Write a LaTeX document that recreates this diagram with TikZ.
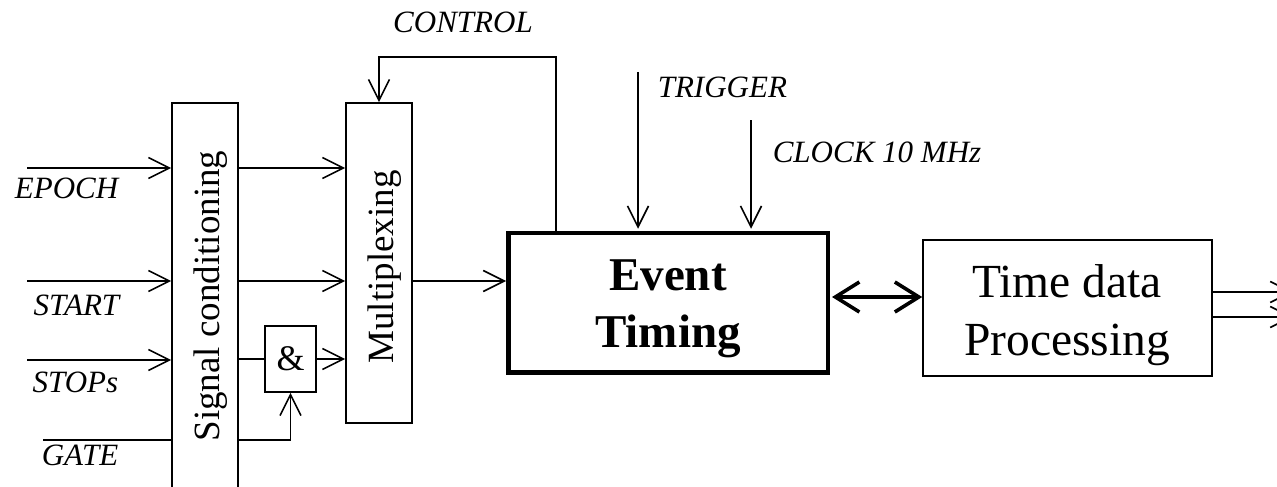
\documentclass[tikz,border=0pt]{standalone}
\usepackage{fontspec}
\setmainfont{Liberation Serif}
\usetikzlibrary{arrows.meta,positioning}

\begin{document}
\begin{tikzpicture}[
    x=1pt, y=-1pt,
    line width=1.6pt,
    block/.style={draw, line width=1.6pt, inner sep=0pt},
    vlabel/.style={rotate=90, font=\fontsize{37}{44}\selectfont, inner sep=0pt},
    sig/.style={font=\fontsize{31}{37}\selectfont\itshape, inner sep=0pt},
    arrow/.style={-{Straight Barb[length=21pt, width=21pt]}, line width=1.6pt},
    biarrow/.style={{Straight Barb[length=24pt, width=30pt]}-{Straight Barb[length=24pt, width=30pt]}, line width=3.6pt}
]
\useasboundingbox (0,0) rectangle (1277,487);

% blocks
\node[block, minimum width=66pt, minimum height=387pt] (cond) at (205,296.5) {};
\node[vlabel] (condtxt) at (211,296) {Signal conditioning};
\node[block, minimum width=66pt, minimum height=320pt] (mux) at (379,263) {};
\node[vlabel] (muxtxt) at (384.5,267) {Multiplexing};
\node[block, minimum width=51pt, minimum height=66pt, font=\fontsize{36}{40}\selectfont] (and) at (290.5,359) {\&};
\node[block, line width=4.5pt, minimum width=319.5pt, minimum height=139.5pt] (timing) at (668,302.75) {};
\node[font=\fontsize{47}{57}\selectfont\bfseries, align=center, inner sep=0pt] (timingtxt) at (668,309) {Event\\Timing};
\node[block, minimum width=289pt, minimum height=136pt] (proc) at (1067.5,308) {};
\node[font=\fontsize{47.5}{58}\selectfont, align=center, inner sep=0pt] (proctxt) at (1067,315) {Time data\\Processing};

% free ends
\coordinate (epochin) at (27,168);
\coordinate (startin) at (27,281);
\coordinate (stopin) at (27,360);
\coordinate (gatein) at (43,440);
\coordinate (ctrl) at (556,57);
\coordinate (trig) at (638,72);
\coordinate (clk) at (751,120);
\coordinate (out1) at (1293,292);
\coordinate (out2) at (1293,317);

% signal names
\node[sig, anchor=base east] (epoch) at (119,198) {EPOCH};
\node[sig, anchor=base east] (start) at (120,315) {START};
\node[sig, anchor=base east] (stops) at (119,392) {STOPs};
\node[sig, anchor=base east] (gate) at (119,465) {GATE};
\node[sig, anchor=base] (control) at (463,33) {CONTROL};
\node[sig, anchor=base west] (trigger) at (657,97) {TRIGGER};
\node[sig, anchor=base west] (clock) at (772,162) {CLOCK 10 MHz};

% inputs
\draw[arrow] (epochin) -- (epochin -| cond.west);
\draw[arrow] (startin) -- (startin -| cond.west);
\draw[arrow] (stopin) -- (stopin -| cond.west);
\draw (gatein) -- (gatein -| cond.west);

% conditioning to multiplexing
\draw[arrow] (cond.east |- epochin) -- (mux.west |- epochin);
\draw[arrow] (cond.east |- startin) -- (mux.west |- startin);
\draw (cond.east |- and) -- (and.west);
\draw[arrow] (and.east) -- (and -| mux.west);
\draw[arrow] (cond.east |- gatein) -| (and.south);

% multiplexing to timing
\draw[arrow] (mux.east |- startin) -- (timing.west |- startin);
\draw[arrow] (ctrl |- timing.north) |- (mux.north |- ctrl) -- (mux.north);
\draw[arrow, shorten >=2pt] (trig) -- (trig |- timing.north);
\draw[arrow, shorten >=2pt] (clk) -- (clk |- timing.north);

% timing to processing
\draw[biarrow, shorten <=2pt] (timing.east |- 0,297) -- (proc.west |- 0,297);
\draw[arrow] (proc.east |- out1) -- (out1);
\draw[arrow] (proc.east |- out2) -- (out2);

\end{tikzpicture}
\end{document}
